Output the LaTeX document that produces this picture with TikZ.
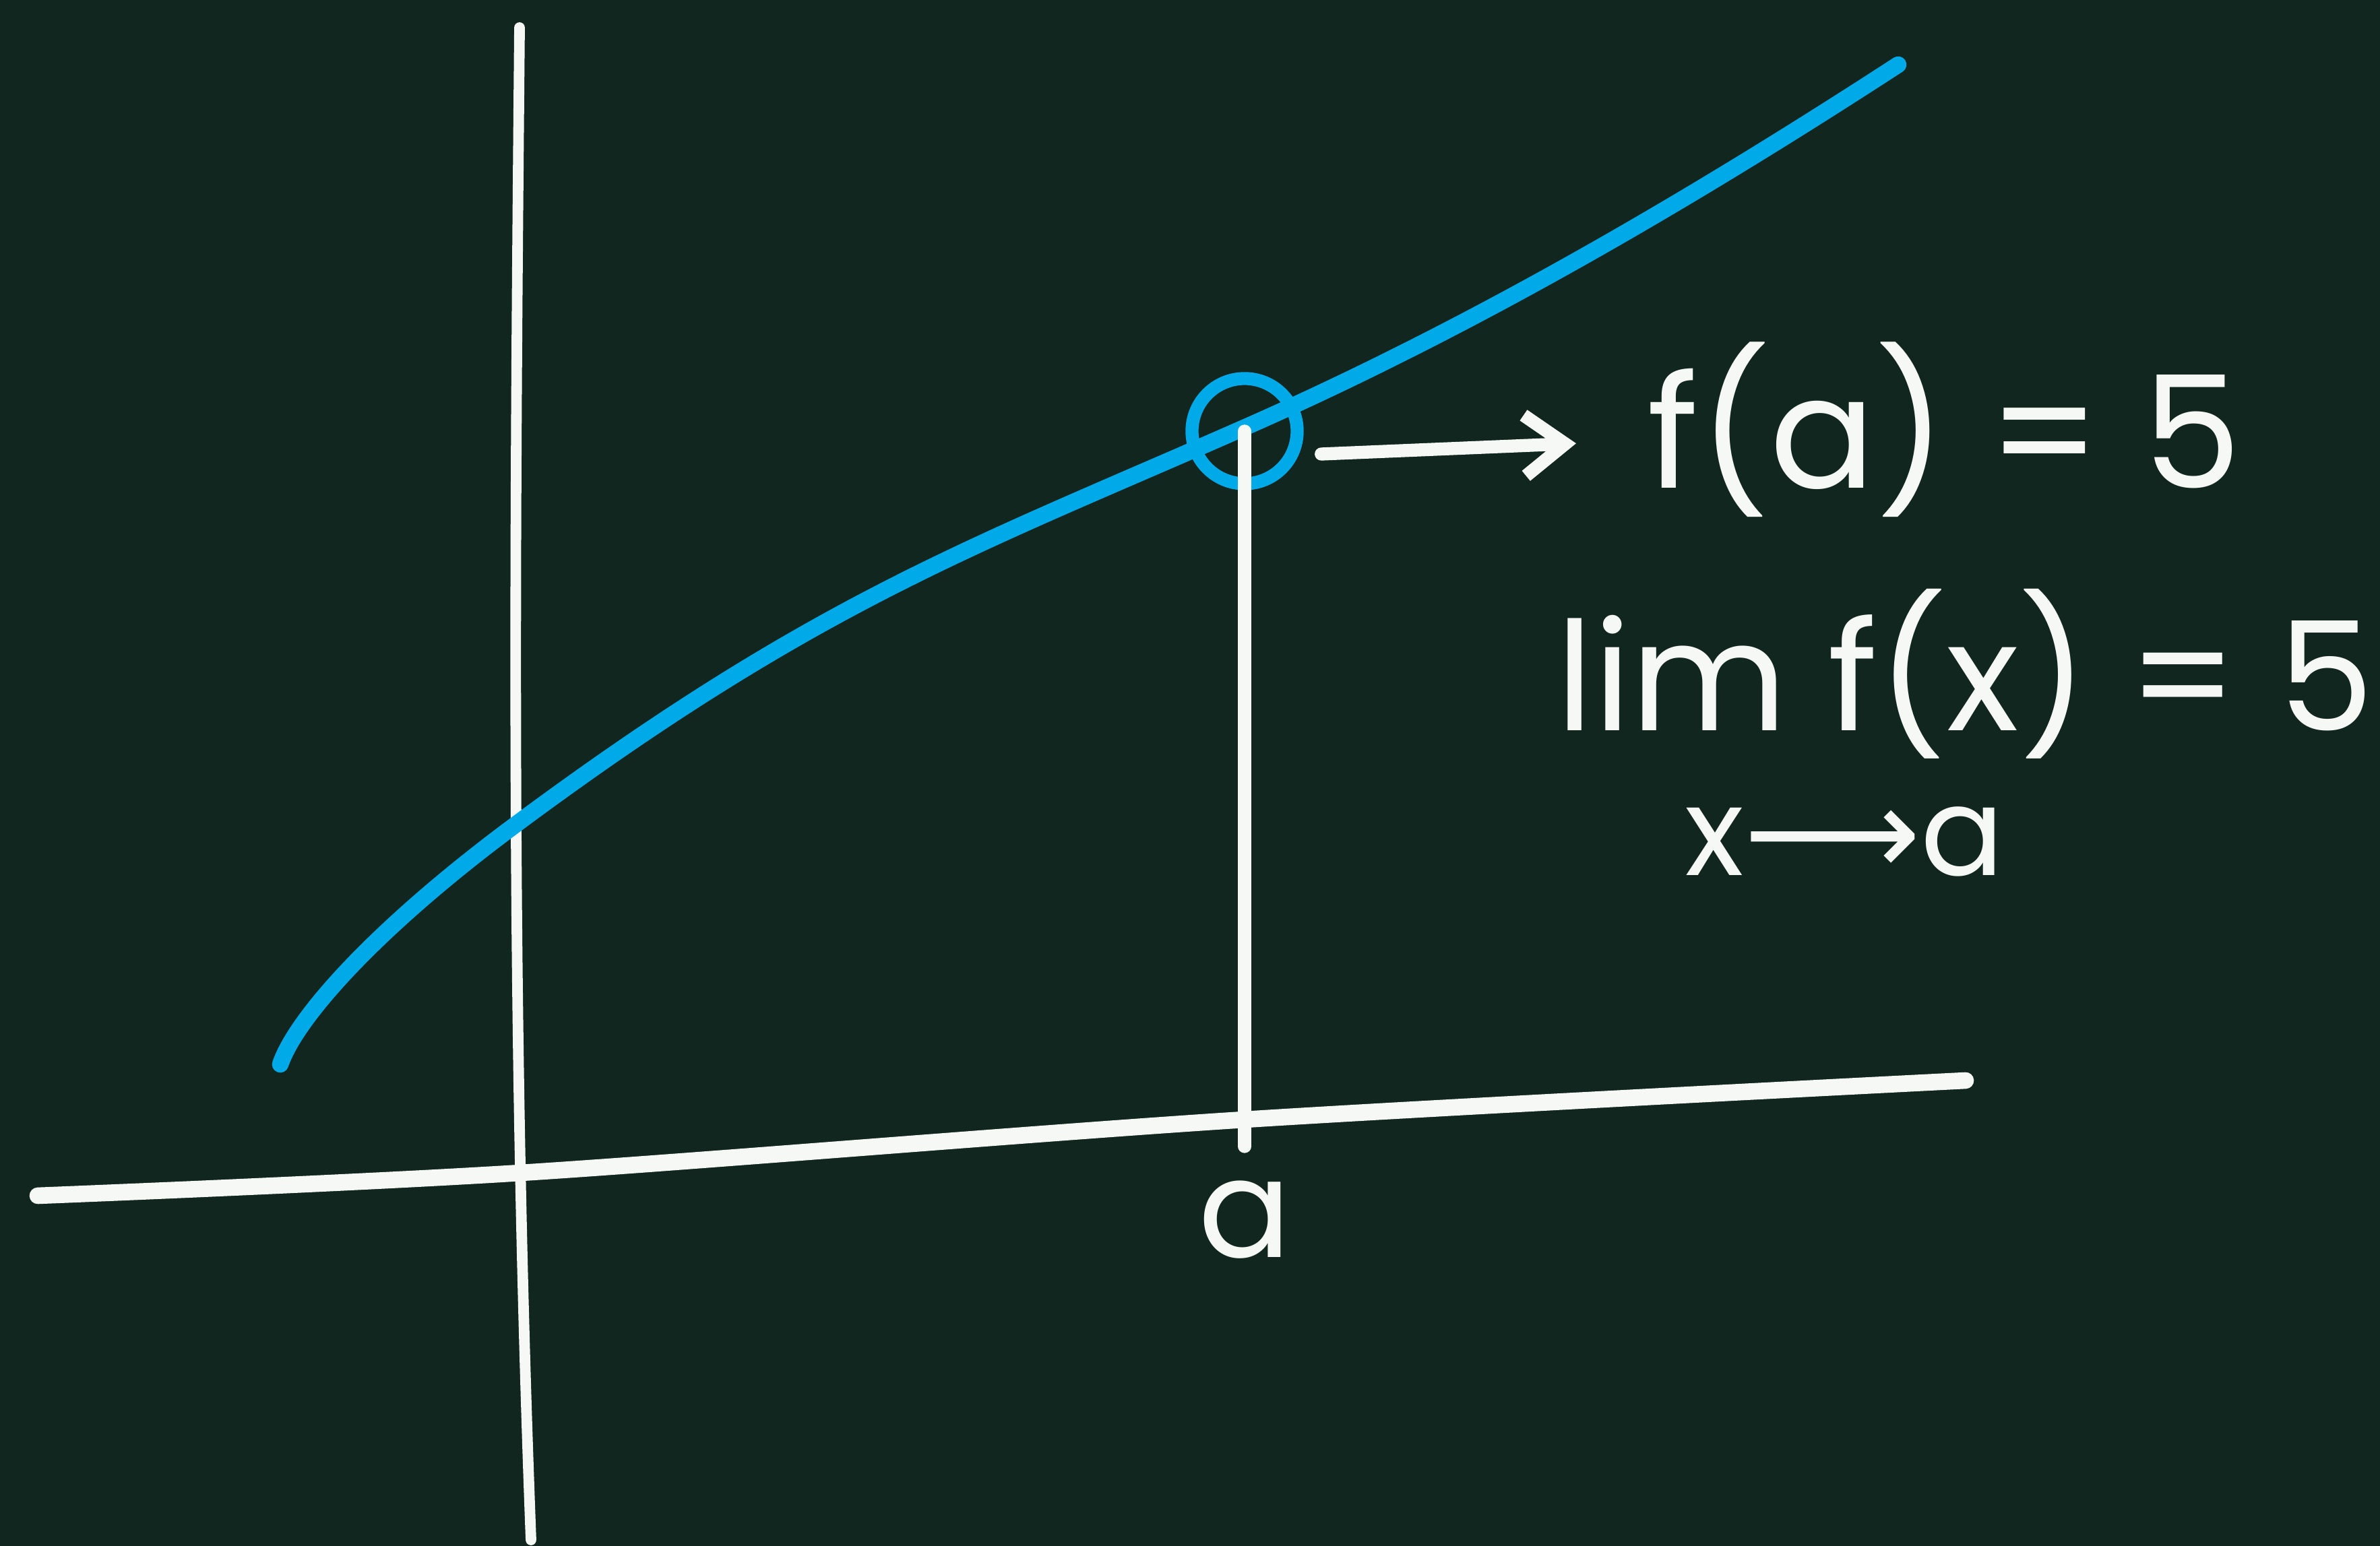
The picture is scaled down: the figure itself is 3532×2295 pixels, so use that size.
\documentclass[tikz,border=0pt]{standalone}
\usepackage{fontspec}
\setmainfont{Poppins}
\newfontfamily\arrowfont{DejaVu Sans}
\definecolor{boardBg}{RGB}{18,38,32}
\definecolor{chalkBlue}{RGB}{0,170,232}
\definecolor{chalkWhite}{RGB}{246,248,246}
\usetikzlibrary{arrows.meta,positioning,calc}

\begin{document}
\begin{tikzpicture}[x=0.01cm, y=-0.01cm,
  axis/.style={chalkWhite, line width=4.5pt, line cap=round},
  curve/.style={chalkBlue, line width=7pt, line cap=round},
  ring/.style={circle, draw=chalkBlue, line width=5.5pt, minimum size=1.56cm, inner sep=0pt},
  arr/.style={-{Straight Barb[length=6mm,width=9mm]}, chalkWhite, line width=5.5pt, line cap=round},
  lbl/.style={text=chalkWhite, font=\fontsize{66}{70}\selectfont, inner sep=0pt}
]
  \fill[boardBg] (0,0) rectangle (3532,2295);

  % axes
  \draw[axis, line width=7pt] plot[smooth] coordinates {(56,1775) (773,1741) (1847,1662) (2917,1604)};
  \draw[axis] (771,41) .. controls (764,800) and (758,1500) .. (788,2286);

  % the function
  \draw[curve] (416,1580) .. controls (440,1510) and (560,1377) .. (760,1228)
    .. controls (1210,893) and (1444,812) .. (1844,636)
    .. controls (2174,491) and (2497,304) .. (2817,96);

  % the point at x = a
  \node[ring] (pt) at (1847,640) {};
  \coordinate (tick) at (1847,1702);
  \draw[axis, line width=5.5pt] (pt.center) -- (tick);
  \node[lbl, font=\fontsize{58}{60}\selectfont, below=0.5cm of tick] (alabel) {a};

  % values
  \node[lbl, anchor=base west] (fa) at (2444,725) {f(a) = 5};
  \node[lbl, anchor=base west, font=\fontsize{64}{68}\selectfont] (lim) at (2309,1085) {lim f(x) = 5};
  \node[lbl, anchor=base west, font=\fontsize{52}{54}\selectfont] (xa) at (2500,1300) {x{\arrowfont ⟶}a};

  \draw[arr] ([xshift=0.26cm,yshift=-0.34cm]pt.east) -- ([xshift=-1.05cm,yshift=-0.2cm]fa.west);
\end{tikzpicture}
\end{document}
